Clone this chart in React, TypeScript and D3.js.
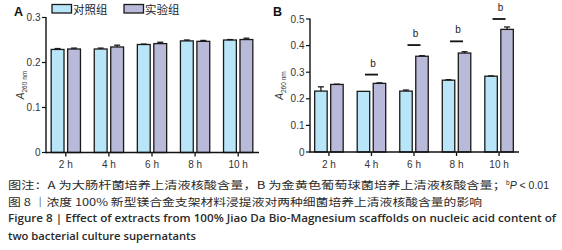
import React from "react";
import * as d3 from "d3";

const categories = ["2 h", "4 h", "6 h", "8 h", "10 h"];
const seriesNames = ["对照组", "实验组"];

const aControl = [0.229, 0.230, 0.240, 0.248, 0.250];
const aControlErr = [0.002, 0.002, 0.001, 0.002, 0.001];
const aExp = [0.230, 0.2345, 0.242, 0.247, 0.251];
const aExpErr = [0.002, 0.004, 0.003, 0.002, 0.003];
const aTicks = [0, 0.1, 0.2, 0.3];
const aTickLabels = ["0", "0.1", "0.2", "0.3"];

const bControl = [0.229, 0.228, 0.229, 0.270, 0.285];
const bControlErr = [0.016, 0, 0.004, 0.002, 0.001];
const bExp = [0.254, 0.258, 0.360, 0.372, 0.461];
const bExpErr = [0.001, 0.002, 0.002, 0.005, 0.009];
const bSigLine: (number | null)[] = [null, 0.291, 0.402, 0.416, 0.5];
const bSigLabel = ["", "b", "b", "b", "b"];
const bTicks = [0, 0.1, 0.2, 0.3, 0.4, 0.5];
const bTickLabels = ["0", "0.1", "0.2", "0.3", "0.4", "0.5"];

const captionLines = [
  "图注：A 为大肠杆菌培养上清液核酸含量，B 为金黄色葡萄球菌培养上清液核酸含量；",
  "图 8 ｜浓度 100% 新型镁合金支架材料浸提液对两种细菌培养上清液核酸含量的影响",
  "Figure 8  |  Effect of extracts from 100% Jiao Da Bio-Magnesium scaffolds on nucleic acid content of",
  "two bacterial culture supernatants",
];

const COLORS = ["#b9e5f9", "#b9b9d9"];
const TICK_FONT = "'Liberation Sans', Arial, sans-serif";
const CJK = "'Noto Sans CJK SC', sans-serif";

type PanelProps = {
  letter: string;
  letterX: number;
  x0: number;
  x1: number;
  yBottom: number;
  yTop: number;
  yMax: number;
  ticks: number[];
  tickLabels: string[];
  control: number[];
  controlErr: number[];
  exp: number[];
  expErr: number[];
  labelX: number;
  sigLine?: (number | null)[];
  sigLabel?: string[];
  padOuter: number;
  padInner: number;
};

function Panel(p: PanelProps) {
  const x = d3.scaleBand<string>().domain(categories).range([p.x0, p.x1]).paddingInner(p.padInner).paddingOuter(p.padOuter);
  const inner = d3.scaleBand<string>().domain(["c", "e"]).range([0, x.bandwidth()]).paddingInner(0.22);
  const y = d3.scaleLinear().domain([0, p.yMax]).range([p.yBottom, p.yTop]);
  const bw = inner.bandwidth();
  const series = [
    { key: "c", vals: p.control, errs: p.controlErr, color: COLORS[0] },
    { key: "e", vals: p.exp, errs: p.expErr, color: COLORS[1] },
  ];
  return (
    <g>
      <text x={p.letterX} y={16} fontFamily="'Liberation Sans', Arial, sans-serif" fontWeight="bold" fontSize={12.5} fill="#111">
        {p.letter}
      </text>
      {categories.map((c, i) => (
        <g key={c}>
          {series.map((s) => {
            const bx = (x(c) as number) + (inner(s.key) as number);
            const top = y(s.vals[i]);
            const eTop = y(s.vals[i] + s.errs[i]);
            const cx = bx + bw / 2;
            return (
              <g key={s.key}>
                <rect x={bx} y={top} width={bw} height={y(0) - top} fill={s.color} stroke="#1a1a1a" strokeWidth={1.3} />
                {s.errs[i] > 0 && (
                  <g stroke="#1a1a1a" strokeWidth={1.3}>
                    <line x1={cx} x2={cx} y1={top} y2={eTop} />
                    <line x1={cx - 3} x2={cx + 3} y1={eTop} y2={eTop} />
                  </g>
                )}
              </g>
            );
          })}
          {p.sigLine && p.sigLine[i] != null && (
            <g>
              <line
                x1={(x(c) as number) + x.bandwidth() / 2 - 6.5}
                x2={(x(c) as number) + x.bandwidth() / 2 + 6.5}
                y1={y(p.sigLine[i] as number)}
                y2={y(p.sigLine[i] as number)}
                stroke="#111"
                strokeWidth={1.8}
              />
              <text
                x={(x(c) as number) + x.bandwidth() / 2 + 1.5}
                y={y(p.sigLine[i] as number) - 8}
                textAnchor="middle"
                fontFamily={TICK_FONT}
                fontSize={10}
                fill="#222"
              >
                {p.sigLabel ? p.sigLabel[i] : ""}
              </text>
            </g>
          )}
        </g>
      ))}
      {/* y axis */}
      <line x1={p.x0} x2={p.x0} y1={y(p.yMax) - 0.5} y2={y(0) + 0.7} stroke="#111" strokeWidth={1.4} />
      {p.ticks.map((t, i) => (
        <g key={t}>
          <line x1={p.x0 - 4} x2={p.x0} y1={y(t)} y2={y(t)} stroke="#111" strokeWidth={1.2} />
          <text x={p.x0 - 5.5} y={y(t) + 3.5} textAnchor="end" fontFamily={TICK_FONT} fontSize={10} fill="#333">
            {p.tickLabels[i]}
          </text>
        </g>
      ))}
      {/* x axis */}
      <line x1={p.x0} x2={p.x1 + 1} y1={y(0)} y2={y(0)} stroke="#111" strokeWidth={1.4} />
      {categories.map((c) => {
        const cx = (x(c) as number) + x.bandwidth() / 2;
        return (
          <g key={c}>
            <line x1={cx} x2={cx} y1={y(0)} y2={y(0) + 4} stroke="#111" strokeWidth={1.3} />
            <text x={cx} y={y(0) + 15.5} textAnchor="middle" fontFamily={TICK_FONT} fontSize={10} fill="#333">
              {c}
            </text>
          </g>
        );
      })}
      {/* y label */}
      <text
        transform={`translate(${p.labelX},${(p.yTop + p.yBottom) / 2}) rotate(-90)`}
        textAnchor="middle"
        fontFamily={TICK_FONT}
        fill="#333"
      >
        <tspan fontStyle="italic" fontSize={10}>A</tspan>
        <tspan fontSize={6.5} dy={2.5}>260 nm</tspan>
      </text>
    </g>
  );
}

export default function App() {
  return (
    <svg width={562} height={250} style={{ position: "absolute", left: 0, top: 0, background: "#fff" }}>
      <rect width={562} height={250} fill="#fff" />
      {/* legend */}
      {seriesNames.map((n, i) => (
        <g key={n}>
          <rect x={52 + i * 72} y={4.5} width={19.5} height={8.5} fill={COLORS[i]} stroke="#1a1a1a" strokeWidth={1.3} />
          <text x={73 + i * 72} y={13.5} fontFamily={CJK} fontSize={11.5} fill="#222">
            {n}
          </text>
        </g>
      ))}
      <Panel
        letter="A"
        letterX={14}
        x0={46}
        x1={258}
        yBottom={152.5}
        yTop={17.5}
        yMax={0.3}
        ticks={aTicks}
        tickLabels={aTickLabels}
        control={aControl}
        controlErr={aControlErr}
        exp={aExp}
        expErr={aExpErr}
        labelX={24}
        padOuter={0.12}
        padInner={0.32}
      />
      <Panel
        letter="B"
        letterX={273}
        x0={310}
        x1={518}
        yBottom={152}
        yTop={19}
        yMax={0.5}
        ticks={bTicks}
        tickLabels={bTickLabels}
        control={bControl}
        controlErr={bControlErr}
        exp={bExp}
        expErr={bExpErr}
        labelX={283}
        sigLine={bSigLine}
        sigLabel={bSigLabel}
        padOuter={0.11}
        padInner={0.33}
      />
      {/* caption */}
      <text x={8} y={189} fontFamily={CJK} fontSize={10.5} fill="#2a2a2a">
        <tspan textLength={498} lengthAdjust="spacingAndGlyphs">{captionLines[0]}</tspan>
        <tspan fontFamily={TICK_FONT} fontSize={6.5} dy={-4}>b</tspan>
        <tspan fontFamily={TICK_FONT} fontSize={10.5} fontStyle="italic" dy={4}>P</tspan>
        <tspan fontFamily={TICK_FONT} fontSize={10.5}> &lt; 0.01</tspan>
      </text>
      <text x={8} y={205.5} fontFamily={CJK} fontSize={10.5} fill="#2a2a2a" textLength={474} lengthAdjust="spacingAndGlyphs">
        {captionLines[1]}
      </text>
      <text x={8} y={222} fontFamily="'Open Sans', 'Liberation Sans', sans-serif" fontWeight="600" fontSize={10.5} fill="#2a2a2a" textLength={548} lengthAdjust="spacingAndGlyphs">
        {captionLines[2]}
      </text>
      <text x={8} y={239.5} fontFamily="'Open Sans', 'Liberation Sans', sans-serif" fontWeight="600" fontSize={10.5} fill="#2a2a2a" textLength={188} lengthAdjust="spacingAndGlyphs">
        {captionLines[3]}
      </text>
    </svg>
  );
}
